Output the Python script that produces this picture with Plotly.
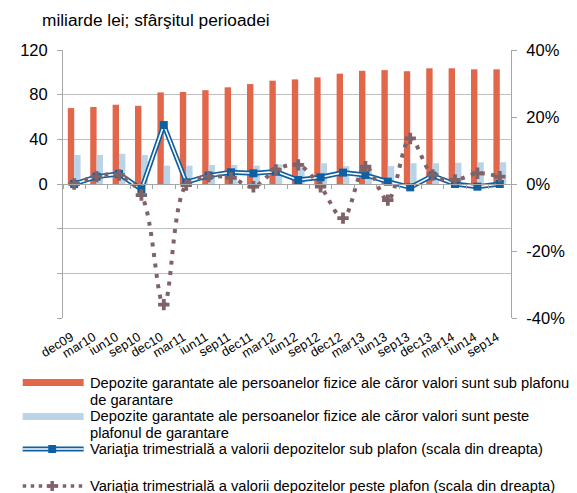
import plotly.graph_objects as go

# quarterly data, dec 2009 - sep 2014
quarters = ["dec09", "mar10", "iun10", "sep10", "dec10", "mar11", "iun11", "sep11", "dec11", "mar12",
            "iun12", "sep12", "dec12", "mar13", "iun13", "sep13", "dec13", "mar14", "iun14", "sep14"]

# deposits below the guarantee ceiling (bn lei, left axis)
sub_plafon = [68, 69, 71, 70, 82, 82.4, 84, 86.6, 89.5, 92.5,
              93.7, 95.5, 98.8, 101.4, 102, 101, 103.6, 103.6, 102.7, 102.7]
# deposits above the guarantee ceiling (bn lei, left axis)
peste_plafon = [26, 26, 27, 26, 16.4, 16.4, 17, 17, 16.5, 17.5,
                18.6, 18.6, 16, 17, 16, 18.6, 18.6, 19, 19.5, 19.5]
# quarterly change, % (right axis)
var_sub = [0, 2.2, 3, -1.6, 17.6, 0.5, 2.5, 3.5, 3.2, 3.7,
           1.2, 2, 3.4, 2.7, 0.7, -1, 2.5, 0, -0.8, 0]
var_peste = [0, 2.2, 2.7, -3.3, -36, -0.3, 2.2, 1.8, -0.8, 4.2,
             5.7, -0.8, -10.2, 5.2, -4.8, 13.6, 2.7, 1.2, 3.2, 2.2]

left_ticks = [-120, -80, -40, 0, 40, 80, 120]
left_labels = ["", "", "", "0", "40", "80", "120"]
right_ticks = [-40, -20, 0, 20, 40]
right_labels = ["-40%", "-20%", "0%", "20%", "40%"]

legend_labels = [
    ["Depozite garantate ale persoanelor fizice ale căror valori sunt sub plafonul", "de garantare"],
    ["Depozite garantate ale persoanelor fizice ale căror valori sunt peste", "plafonul de garantare"],
    ["Variaţia trimestrială a valorii depozitelor sub plafon (scala din dreapta)"],
    ["Variaţia trimestrială a valorii depozitelor peste plafon (scala din dreapta)"],
]

RED = "#E2674A"
LIGHT = "#B9D4E6"
BLUE = "#0F60A2"
MAUVE = "#7F6369"
GRID = "#BFBFBF"
AXIS = "#A6A6A6"
FONT = "Arial, Liberation Sans, sans-serif"

# page is offset by the default 8px body margin, so the figure is 8px smaller
W, H = 577, 493
OFF = 8
PLOT_L, PLOT_R, PLOT_T, PLOT_B = 60, 516, 50, 318


def px(x):
    return (x - PLOT_L) / (PLOT_R - PLOT_L)


def py(y):
    return (PLOT_B - y) / (PLOT_B - PLOT_T)


fig = go.Figure()
fig.add_trace(go.Bar(x=quarters, y=sub_plafon, marker_color=RED, marker_line_width=0))
fig.add_trace(go.Bar(x=quarters, y=peste_plafon, marker_color=LIGHT, marker_line_width=0))

# double line: thick blue with thin white core
fig.add_trace(go.Scatter(x=quarters, y=var_sub, yaxis="y2", mode="lines",
                         line=dict(color=BLUE, width=5)))
fig.add_trace(go.Scatter(x=quarters, y=var_sub, yaxis="y2", mode="lines+markers",
                         line=dict(color="white", width=1.6),
                         marker=dict(symbol="square", size=8, color=BLUE)))
fig.add_trace(go.Scatter(x=quarters, y=var_peste, yaxis="y2", mode="lines+markers",
                         line=dict(color=MAUVE, width=4, dash="4px,6.5px", shape="spline", smoothing=1),
                         marker=dict(symbol="cross", size=9.5, color=MAUVE)))

# invisible trace for the zero-line category axis
fig.add_trace(go.Scatter(x=quarters, y=var_sub, xaxis="x2", yaxis="y2", mode="lines",
                         line=dict(width=0), opacity=0, hoverinfo="skip"))

fig.update_traces(showlegend=False)

shapes = []
annotations = [dict(text="miliarde lei; sfârşitul perioadei", x=px(37), y=py(20), xref="paper", yref="paper",
                    xanchor="left", yanchor="middle", showarrow=False, font=dict(size=17.3, color="black"))]

x0, x1, tx = 19, 81, 85
# legend: bars
for (y_top, y_bot, col, lab, ys) in [(379, 386, RED, legend_labels[0], [383, 400]),
                                      (413, 420, LIGHT, legend_labels[1], [416, 433])]:
    shapes.append(dict(type="rect", xref="paper", yref="paper", x0=px(x0), x1=px(x1),
                       y0=py(y_bot), y1=py(y_top), fillcolor=col, line_width=0))
    for t, yy in zip(lab, ys):
        annotations.append(dict(text=t, x=px(tx), y=py(yy), xref="paper", yref="paper",
                                xanchor="left", yanchor="middle", showarrow=False))
# legend: double line
shapes.append(dict(type="line", xref="paper", yref="paper", x0=px(x0), x1=px(x1), y0=py(449), y1=py(449),
                   line=dict(color=BLUE, width=5)))
shapes.append(dict(type="line", xref="paper", yref="paper", x0=px(x0), x1=px(x1), y0=py(449), y1=py(449),
                   line=dict(color="white", width=1.6)))
shapes.append(dict(type="rect", xref="paper", yref="paper", x0=px(45), x1=px(53), y0=py(453), y1=py(445),
                   fillcolor=BLUE, line_width=0))
annotations.append(dict(text=legend_labels[2][0], x=px(tx), y=py(449), xref="paper", yref="paper",
                        xanchor="left", yanchor="middle", showarrow=False))
# legend: dotted line
shapes.append(dict(type="line", xref="paper", yref="paper", x0=px(x0), x1=px(x1), y0=py(486), y1=py(486),
                   line=dict(color=MAUVE, width=3.5, dash="3.5px,4.5px")))
shapes.append(dict(type="line", xref="paper", yref="paper", x0=px(44), x1=px(54), y0=py(486), y1=py(486),
                   line=dict(color=MAUVE, width=3.5)))
shapes.append(dict(type="line", xref="paper", yref="paper", x0=px(49), x1=px(49), y0=py(481), y1=py(491),
                   line=dict(color=MAUVE, width=3.5)))
annotations.append(dict(text=legend_labels[3][0], x=px(tx), y=py(486), xref="paper", yref="paper",
                        xanchor="left", yanchor="middle", showarrow=False))

fig.update_layout(
    width=W - OFF, height=H - OFF,
    margin=dict(l=PLOT_L - OFF, r=W - PLOT_R, t=PLOT_T - OFF, b=H - PLOT_B),
    paper_bgcolor="white", plot_bgcolor="white",
    font=dict(family=FONT, size=14.7, color="black"),
    barmode="group", bargap=0.43, bargroupgap=0,
    xaxis=dict(type="category", categoryorder="array", categoryarray=quarters, range=[-0.5, 19.5],
               tickangle=-31, tickfont=dict(size=12.8), ticks="outside", ticklen=6,
               tickcolor="rgba(0,0,0,0)", ticklabelshift=-3,
               showline=False, showgrid=False, zeroline=False),
    xaxis2=dict(type="category", categoryorder="array", categoryarray=quarters, range=[-0.5, 19.5],
                overlaying="x", anchor="free", position=0.5, side="bottom",
                showline=True, linecolor=AXIS, linewidth=1, ticks="outside", ticklen=4,
                tickcolor=AXIS, tickson="boundaries", showticklabels=False, showgrid=False),
    yaxis=dict(range=[-120, 120], tickvals=left_ticks, ticktext=left_labels, tickfont=dict(size=16.5),
               showgrid=True, gridcolor=GRID, gridwidth=1, zeroline=False,
               showline=True, linecolor=AXIS, ticks="outside", ticklen=5, tickcolor=AXIS,
               ticklabelstandoff=6),
    yaxis2=dict(range=[-40, 40], tickvals=right_ticks, ticktext=right_labels, overlaying="y",
                side="right", tickfont=dict(size=16.5), showgrid=False, zeroline=False,
                showline=True, linecolor=AXIS, ticks="outside", ticklen=5, tickcolor=AXIS,
                ticklabelstandoff=6),
    shapes=shapes,
    annotations=annotations,
)

fig.write_html("out.html")
